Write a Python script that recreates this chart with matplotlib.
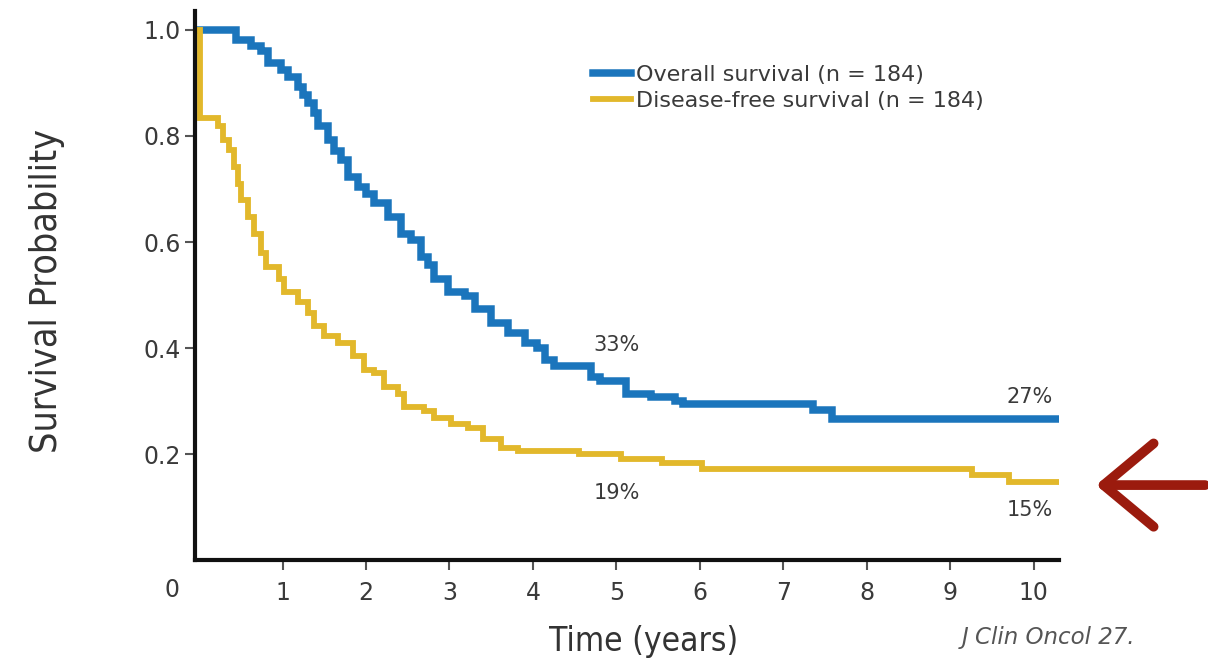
import numpy as np
import matplotlib.pyplot as plt
from matplotlib.patches import FancyArrowPatch

# Kaplan-Meier estimates (years, survival probability)
os_time = [0.00, 0.44, 0.62, 0.74, 0.82, 0.98, 1.06, 1.18, 1.24, 1.30, 1.38, 1.42,
           1.54, 1.62, 1.70, 1.78, 1.90, 2.00, 2.10, 2.26, 2.42, 2.54, 2.66, 2.74,
           2.82, 2.98, 3.18, 3.30, 3.50, 3.70, 3.91, 4.05, 4.15, 4.25, 4.70, 4.80,
           5.12, 5.41, 5.70, 5.80, 7.35, 7.58, 10.30]
os_surv = [1.000, 0.981, 0.969, 0.960, 0.937, 0.925, 0.912, 0.893, 0.878, 0.862, 0.843, 0.818,
           0.792, 0.772, 0.755, 0.723, 0.704, 0.690, 0.673, 0.648, 0.616, 0.604, 0.572, 0.557,
           0.531, 0.505, 0.499, 0.473, 0.448, 0.429, 0.410, 0.400, 0.378, 0.366, 0.345, 0.338,
           0.313, 0.307, 0.300, 0.294, 0.284, 0.266, 0.266]

dfs_time = [0.00, 0.01, 0.22, 0.28, 0.36, 0.42, 0.46, 0.50, 0.58, 0.66, 0.74, 0.80,
            0.96, 1.02, 1.18, 1.30, 1.38, 1.50, 1.66, 1.84, 1.98, 2.10, 2.22, 2.38,
            2.46, 2.70, 2.82, 3.02, 3.22, 3.40, 3.62, 3.82, 4.55, 5.05, 5.55, 6.02,
            9.26, 9.70, 10.30]
dfs_surv = [1.000, 0.833, 0.818, 0.792, 0.774, 0.742, 0.710, 0.679, 0.648, 0.616, 0.579, 0.553,
            0.530, 0.505, 0.486, 0.467, 0.442, 0.422, 0.410, 0.385, 0.358, 0.352, 0.327, 0.314,
            0.288, 0.282, 0.269, 0.256, 0.250, 0.228, 0.211, 0.205, 0.200, 0.190, 0.183, 0.172,
            0.160, 0.147, 0.147]

labels = ['Overall survival (n = 184)', 'Disease-free survival (n = 184)']
callouts = [(5.0, 0.405, '33%'), (9.95, 0.307, '27%'), (5.0, 0.126, '19%'), (9.95, 0.094, '15%')]

blue = '#1b75bc'
gold = '#e2b82b'
grey = '#3a3a3a'

fig = plt.figure(figsize=(12.08, 6.70), dpi=100)
ax = fig.add_axes([0.1614, 0.164, 0.715, 0.819])

ax.step(os_time, os_surv, where='post', color=blue, lw=5.4, label=labels[0],
        solid_joinstyle='miter')
ax.step(dfs_time, dfs_surv, where='post', color=gold, lw=4.2, label=labels[1],
        solid_joinstyle='miter')

ax.set_xlim(-0.05, 10.3)
ax.set_ylim(0, 1.035)

for side in ['top', 'right']:
    ax.spines[side].set_visible(False)
for side in ['left', 'bottom']:
    ax.spines[side].set_linewidth(3)
    ax.spines[side].set_color('#111111')

ax.set_xticks(range(1, 11))
ax.set_yticks([0.2, 0.4, 0.6, 0.8, 1.0])
ax.set_yticklabels(['0.2', '0.4', '0.6', '0.8', '1.0'])
ax.tick_params(axis='both', direction='out', length=7, width=1.5, color='#555555',
               labelsize=17, labelcolor=grey)
ax.tick_params(axis='x', pad=8)
ax.tick_params(axis='y', pad=3)
ax.text(-0.33, -0.055, '0', transform=ax.get_xaxis_transform(), ha='center', va='center',
        fontsize=17, color=grey)

ax.set_ylabel('Survival Probability', fontsize=27, color='#333333', fontstretch='condensed')
ax.yaxis.set_label_coords(-0.150, 0.49)
ax.set_xlabel('Time (years)', fontsize=24, color='#333333', fontstretch='condensed')
ax.xaxis.set_label_coords(0.519, -0.119)

for x, y, s in callouts:
    ax.text(x, y, s, ha='center', va='center', fontsize=15, color=grey)

ax.legend(loc='upper left', bbox_to_anchor=(0.451, 0.918), frameon=False, fontsize=16,
          handlelength=1.7, handletextpad=0.2, labelspacing=0.25, borderaxespad=0,
          labelcolor=grey)

fig.text(0.796, 0.049, 'J Clin Oncol 27.', fontsize=16.5, style='italic', color='#555555',
         ha='left', va='center')

# pointer on the right margin towards the disease-free plateau
arrow = FancyArrowPatch((1.0, 0.276), (0.905, 0.276), transform=fig.transFigure,
                        arrowstyle='->,head_length=0.9,head_width=0.75', color='#9b1b0e',
                        lw=7, mutation_scale=40, capstyle='round', joinstyle='round')
fig.patches.append(arrow)

fig.savefig('out.png', dpi=100)
